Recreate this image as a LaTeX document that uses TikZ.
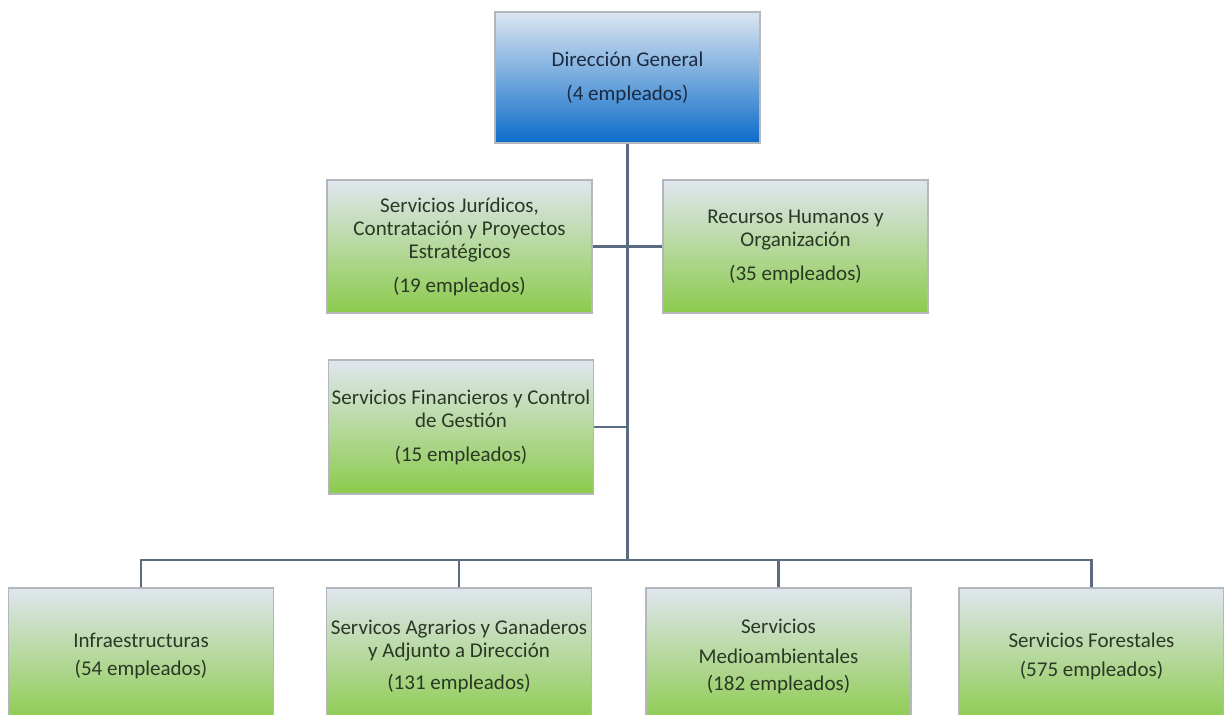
\documentclass[tikz,border=0pt]{standalone}
\usepackage{fontspec}
\setmainfont{Carlito}
\definecolor{linec}{HTML}{5B6B80}
\definecolor{boxline}{HTML}{B4B8BC}
\definecolor{gtop}{HTML}{DFE6EE}
\definecolor{gmid}{HTML}{C5E4A3}
\definecolor{gbot}{HTML}{8CCB4C}
\definecolor{btop}{HTML}{DCE6F1}
\definecolor{bmid}{HTML}{7DB2E2}
\definecolor{bbot}{HTML}{0C6CC9}
\definecolor{gtext}{HTML}{2A3826}
\definecolor{btext}{HTML}{1B2A42}
\tikzset{
  unit/.style={draw=boxline, line width=0.6pt, minimum width=132.5pt, align=center, inner sep=0pt,
    font=\fontsize{10.5}{11.5}\selectfont},
  greenbox/.style={unit, top color=gtop, middle color=gmid, bottom color=gbot, text=gtext},
  bluebox/.style={unit, top color=btop, middle color=bmid, bottom color=bbot, text=btext},
  conn/.style={draw=linec, line width=1.4pt}
}
\begin{document}
\begin{tikzpicture}[x=0.5pt,y=-0.5pt]
\useasboundingbox (0,0) rectangle (1224,714);
\clip (0,0) rectangle (1224,714);
\node[bluebox, minimum height=65.5pt] (top) at (627.5,77.5) {Dirección General\\[5.5pt](4 empleados)};
\node[greenbox, minimum height=66.5pt] (jur) at (459.5,246.5) {Servicios Jurídicos,\\Contratación y Proyectos\\Estratégicos\\[5.5pt](19 empleados)};
\node[greenbox, minimum height=66.5pt] (rrhh) at (795.5,246.5) {Recursos Humanos y\\Organización\\[5.5pt](35 empleados)};
\node[greenbox, minimum height=67pt] (fin) at (461,427) {Servicios Financieros y Control\\de Gestión\\[5.5pt](15 empleados)};
\node[greenbox, minimum height=68pt] (b1) at (141,656) {Infraestructuras\\[2.5pt](54 empleados)};
\node[greenbox, minimum height=68pt] (b2) at (459,656) {Servicos Agrarios y Ganaderos\\y Adjunto a Dirección\\[4.5pt](131 empleados)};
\node[greenbox, minimum height=68pt] (b3) at (778.5,656) {Servicios\\[3.5pt]Medioambientales\\[2pt](182 empleados)};
\node[greenbox, minimum height=68pt] (b4) at (1091.5,656) {Servicios Forestales\\[3pt](575 empleados)};
\coordinate (bus) at (627.5,560);
\draw[conn] (top.south) -- (bus);
\draw[conn] (jur.east) -- (jur.east -| top.south);
\draw[conn] (rrhh.west) -- (rrhh.west -| top.south);
\draw[conn] (fin.east) -- (fin.east -| top.south);
\draw[conn] (b1.north) |- (bus);
\draw[conn] (b4.north) |- (bus);
\draw[conn] (b2.north) -- (b2.north |- bus);
\draw[conn] (b3.north) -- (b3.north |- bus);
\end{tikzpicture}
\end{document}
